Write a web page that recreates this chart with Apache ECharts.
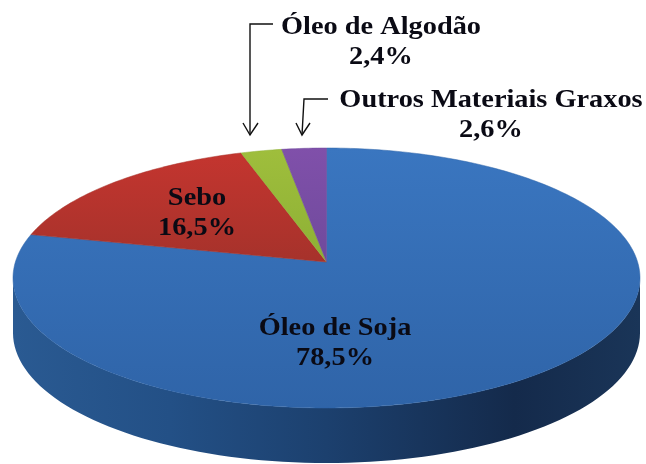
<!DOCTYPE html>
<html>
<head>
<meta charset="utf-8">
<style>html,body{margin:0;padding:0;background:#fff}#c{width:646px;height:464px;filter:blur(0.45px)}</style>
<script src="https://cdn.jsdelivr.net/npm/echarts@6/dist/echarts.min.js"></script>
</head>
<body>
<div id="c"></div>
<script>
// Data, in drawing order clockwise from 12 o'clock
const categories = ['Óleo de Soja', 'Sebo', 'Óleo de Algodão', 'Outros Materiais Graxos'];
const values = [78.5, 16.5, 2.4, 2.6];

const colorsTop = ['#3a76c0', '#c4352f', '#9fbe3c', '#8050aa'];
const colorsBottom = ['#2f64a8', '#a6322b', '#8db035', '#6f4a9c'];
const labelPos = [[335, 343], [197, 213], [381, 42], [491, 115]];

const G = {cx: 326.5, cy: 278, rx: 313.5, ry: 130, apexY: 262, depth: 55};
const FONT = '"Liberation Serif","Times New Roman",serif';

function rimPoint(deg) {
  // Ray from apex at clockwise angle deg from the top, hitting the unit circle
  const a = deg * Math.PI / 180;
  const dx = Math.sin(a), dy = -Math.cos(a);
  const py = (G.apexY - G.cy) / G.ry;
  const b = py * dy;
  const t = -b + Math.sqrt(b * b - (py * py - 1));
  return [G.cx + G.rx * t * dx, G.cy + G.ry * (py + t * dy)];
}

const total = values.reduce((s, v) => s + v, 0);
const seriesData = values.map((v, i) => ({name: categories[i], value: [v, i]}));

function renderSector(params, api) {
  const i = api.value(1);
  let start = 0;
  for (let k = 0; k < i; k++) start += values[k];
  const a0 = start / total * 360, a1 = (start + api.value(0)) / total * 360;
  const pts = [[G.cx, G.apexY]];
  const n = Math.max(4, Math.ceil(a1 - a0));
  for (let k = 0; k <= n; k++) pts.push(rimPoint(a0 + (a1 - a0) * k / n));
  const lx = new echarts.graphic.LinearGradient(0, 0, 0, 1, [
    {offset: 0, color: colorsTop[i]}, {offset: 1, color: colorsBottom[i]}
  ]);
  return {
    type: 'group',
    children: [
      {type: 'polygon', shape: {points: pts}, style: {fill: lx, stroke: colorsBottom[i], lineWidth: 0.5}},
      {type: 'text', z2: 10, x: labelPos[i][0], y: labelPos[i][1], scaleX: 1.09, style: {
        text: categories[i] + '\n' + String(api.value(0)).replace('.', ',') + '%',
        font: 'bold 26px ' + FONT, fill: '#0a0a14', align: 'center', verticalAlign: 'middle', lineHeight: 30
      }}
    ]
  };
}

function renderWall() {
  const top = [], bottom = [];
  for (let d = 0; d <= 180; d += 2) {
    const a = d * Math.PI / 180;
    const x = G.cx + G.rx * Math.cos(a), y = G.cy + G.ry * Math.sin(a);
    top.push([x, y]);
    bottom.unshift([x, y + G.depth]);
  }
  return {
    type: 'polygon',
    shape: {points: top.concat(bottom)},
    style: {fill: new echarts.graphic.LinearGradient(0, 0, 1, 0, [
      {offset: 0, color: '#2a5a92'},
      {offset: 0.25, color: '#235086'},
      {offset: 0.5, color: '#1c406e'},
      {offset: 0.8, color: '#142a4b'},
      {offset: 1, color: '#1a3558'}
    ])}
  };
}

function arrow(path, head) {
  return [
    {type: 'polyline', silent: true, shape: {points: path}, style: {stroke: '#111', lineWidth: 1.4, fill: null}},
    {type: 'polyline', silent: true, shape: {points: head}, style: {stroke: '#111', lineWidth: 1.4, fill: null}}
  ];
}

const chart = echarts.init(document.getElementById('c'), null, {renderer: 'canvas'});
chart.setOption({
  animation: false,
  backgroundColor: '#ffffff',
  series: [
    {type: 'custom', coordinateSystem: 'none', z: 1, silent: true, data: [[0]], renderItem: renderWall},
    {type: 'custom', coordinateSystem: 'none', z: 2, silent: true, data: seriesData, renderItem: renderSector}
  ],
  graphic: arrow([[273, 24], [250, 24], [250, 135]], [[243, 123], [250, 135], [258, 123]])
    .concat(arrow([[328, 99], [304, 99], [302, 135]], [[296, 123], [302, 135], [310, 123]]))
});
</script>
</body>
</html>
